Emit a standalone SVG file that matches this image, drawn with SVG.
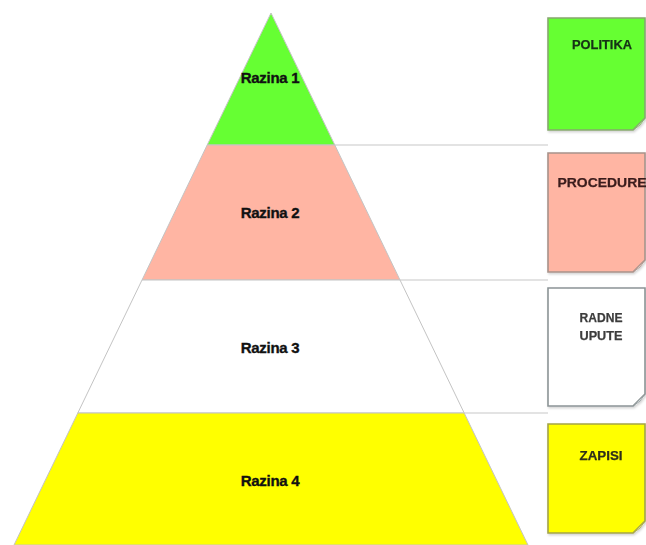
<svg xmlns="http://www.w3.org/2000/svg" width="646" height="545" viewBox="0 0 646 545">
<defs>
<style>
.band{stroke:#c4c4c4;stroke-width:1}
.lvl{font-family:"Liberation Sans",Arial,sans-serif;font-weight:bold;font-size:15px;fill:#111;stroke:#111;stroke-width:0.35;text-anchor:middle;letter-spacing:-0.3px}
.doc{font-family:"Liberation Sans",Arial,sans-serif;font-weight:bold;font-size:13px;text-anchor:middle;stroke-width:0.25}
.sep{stroke:#c8c8c8;stroke-width:1.2;fill:none}
.box{stroke-width:1.6}
.fold{stroke-width:0.8}
</style>
<filter id="sh" x="-10%" y="-10%" width="130%" height="130%">
<feDropShadow dx="1" dy="1.5" stdDeviation="1.2" flood-color="#000" flood-opacity="0.18"/>
</filter>
</defs>
<rect width="646" height="545" fill="#fff"/>
<g id="connectors">
<line class="sep" x1="334.8" y1="145" x2="548" y2="145"/>
<line class="sep" x1="400" y1="280" x2="548" y2="280"/>
<line class="sep" x1="464.2" y1="413" x2="548" y2="413"/>
</g>
<g id="level1">
<polygon class="band" points="271,13 334.8,145 207.2,145" fill="#66ff33"/>
<text class="lvl" x="270" y="83">Razina 1</text>
</g>
<g id="level2">
<polygon class="band" points="207.2,145 334.8,145 400,280 142,280" fill="#ffb5a3"/>
<text class="lvl" x="270" y="218">Razina 2</text>
</g>
<g id="level3">
<polygon class="band" points="142,280 400,280 464.2,413 77.8,413" fill="#ffffff"/>
<text class="lvl" x="270" y="353">Razina 3</text>
</g>
<g id="level4">
<polygon class="band" points="77.8,413 464.2,413 528,545 14,545" fill="#ffff00"/>
<text class="lvl" x="270" y="486">Razina 4</text>
</g>
<g id="doc-politika" filter="url(#sh)">
<path class="box" d="M548,18 H645 V118 L633,130 H548 Z" fill="#66ff33" stroke="#86a86e"/>
<path class="fold" d="M633,130 L645,118 Q641,126 633,130 Z" fill="#b8e8a0" stroke="#86a86e"/>
<text class="doc" x="602" y="49" fill="#143214" stroke="#143214" textLength="60" lengthAdjust="spacingAndGlyphs">POLITIKA</text>
</g>
<g id="doc-procedure" filter="url(#sh)">
<path class="box" d="M548,153 H645 V260 L633,272 H548 Z" fill="#ffb5a3" stroke="#a8928a"/>
<path class="fold" d="M633,272 L645,260 Q641,268 633,272 Z" fill="#e8d4ce" stroke="#a8928a"/>
<text class="doc" x="602" y="187" fill="#3a1c1c" stroke="#3a1c1c" textLength="89" lengthAdjust="spacingAndGlyphs">PROCEDURE</text>
</g>
<g id="doc-radne-upute" filter="url(#sh)">
<path class="box" d="M548,288 H645 V394 L633,406 H548 Z" fill="#ffffff" stroke="#8c9496"/>
<path class="fold" d="M633,406 L645,394 Q641,402 633,406 Z" fill="#e4e8ea" stroke="#8c9496"/>
<text class="doc" x="601" y="322" fill="#3c3c3c" stroke="#3c3c3c" textLength="43" lengthAdjust="spacingAndGlyphs">RADNE</text>
<text class="doc" x="601" y="340" fill="#3c3c3c" stroke="#3c3c3c" textLength="43" lengthAdjust="spacingAndGlyphs">UPUTE</text>
</g>
<g id="doc-zapisi" filter="url(#sh)">
<path class="box" d="M548,424 H645 V521 L633,533 H548 Z" fill="#ffff00" stroke="#a4a448"/>
<path class="fold" d="M633,533 L645,521 Q641,529 633,533 Z" fill="#e8e890" stroke="#a4a448"/>
<text class="doc" x="601" y="460" fill="#2e2e1a" stroke="#2e2e1a" textLength="43" lengthAdjust="spacingAndGlyphs">ZAPISI</text>
</g>
</svg>
